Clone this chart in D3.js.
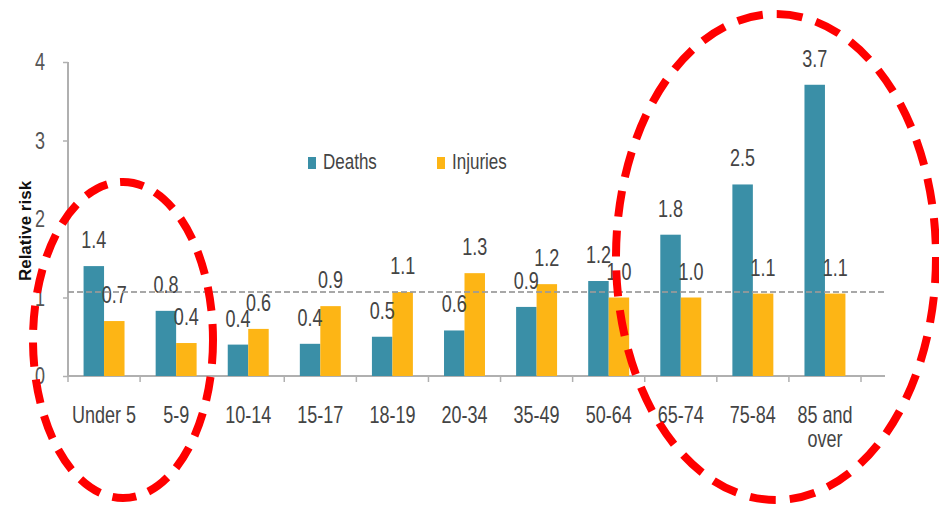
<!DOCTYPE html>
<html><head><meta charset="utf-8">
<script src="https://cdn.jsdelivr.net/npm/d3@7"></script>
<style>
body{margin:0;background:#fff;}
text{font-family:"Liberation Sans",Arial,sans-serif;}
</style></head>
<body><svg id="c" width="939" height="510"></svg>
<script>
const categories = ["Under 5","5-9","10-14","15-17","18-19","20-34","35-49","50-64","65-74","75-84","85 and over"];
const deaths = [1.40,0.83,0.40,0.41,0.50,0.58,0.88,1.21,1.80,2.44,3.71];
const injuries = [0.70,0.42,0.60,0.89,1.07,1.31,1.17,1.00,1.00,1.05,1.05];
const deathLabels = ["1.4","0.8","0.4","0.4","0.5","0.6","0.9","1.2","1.8","2.5","3.7"];
const injuryLabels = ["0.7","0.4","0.6","0.9","1.1","1.3","1.2","1.0","1.0","1.1","1.1"];
const yTicks = [0,1,2,3,4];
const seriesNames = ["Deaths","Injuries"];
const referenceLevel = 1.07;

(function(){
const colors = {Deaths:"#3a8fa7", Injuries:"#fdb515"};
const svg = d3.select("#c");
const mLeft = 68, mRight = 861, axisEnd = 885, mTop = 62, mBottom = 376;
const SY = 1.3;

const x = d3.scaleBand().domain(categories).range([mLeft, mRight]).paddingInner(0).paddingOuter(0);
const xs = d3.scaleBand().domain(seriesNames).range([0, x.bandwidth()]).paddingInner(0).paddingOuter(0.76);
const y = d3.scaleLinear().domain([0,4]).range([mBottom, mTop]);

// axes
const yAxis = svg.append("g").attr("transform",`translate(${mLeft},0)`)
  .call(d3.axisLeft(y).tickValues(yTicks).tickSize(5).tickPadding(18).tickFormat(d3.format("d")));
yAxis.select(".domain").attr("stroke","#b0b0b0").attr("stroke-width",2).attr("d",`M0,${mTop}V${mBottom}`);
yAxis.selectAll(".tick line").attr("stroke","#b0b0b0").attr("stroke-width",1.5);
yAxis.selectAll(".tick text").attr("font-size",18).attr("fill","#555").attr("font-family","Liberation Sans, Arial")
  .attr("transform",`scale(1,${SY})`).attr("y",0).attr("dy","0.33em");

const xAxis = svg.append("g").attr("transform",`translate(0,${mBottom})`)
  .call(d3.axisBottom(x).tickSize(0).tickPadding(0));
xAxis.select(".domain").remove();
xAxis.selectAll(".tick text").attr("font-size",18).attr("fill","#444").attr("font-family","Liberation Sans, Arial")
  .attr("transform",`scale(1,${SY})`).attr("y",23).attr("dy","0.71em")
  .each(function(d){
    const t = d3.select(this);
    if (d === "85 and over") {
      t.text(null);
      t.append("tspan").attr("x",0).attr("dy","0.71em").text("85 and");
      t.append("tspan").attr("x",0).attr("dy","1.05em").text("over");
    }
  });
svg.append("line").attr("x1",mLeft).attr("x2",axisEnd).attr("y1",mBottom).attr("y2",mBottom)
  .attr("stroke","#b0b0b0").attr("stroke-width",2);
svg.append("g").selectAll("line").data(categories.concat(["end"])).join("line")
  .attr("x1",(d,i)=> i<categories.length ? x(d) : mRight)
  .attr("x2",(d,i)=> i<categories.length ? x(d) : mRight)
  .attr("y1",mBottom).attr("y2",mBottom+6).attr("stroke","#b0b0b0").attr("stroke-width",1.5);

// bars
const rows = categories.map((c,i)=>({c, vals:[
  {s:"Deaths", v:deaths[i], l:deathLabels[i]},
  {s:"Injuries", v:injuries[i], l:injuryLabels[i]}]}));
const g = svg.append("g").selectAll("g").data(rows).join("g")
  .attr("transform",d=>`translate(${x(d.c)},0)`);
g.selectAll("rect").data(d=>d.vals).join("rect")
  .attr("x",d=>xs(d.s)).attr("width",xs.bandwidth())
  .attr("y",d=>y(d.v)).attr("height",d=>y(0)-y(d.v))
  .attr("fill",d=>colors[d.s]);

// reference dashed line
svg.append("line").attr("x1",mLeft).attr("x2",axisEnd)
  .attr("y1",y(referenceLevel)).attr("y2",y(referenceLevel))
  .attr("stroke","#9a9a9a").attr("stroke-width",2).attr("stroke-dasharray","6,3").attr("opacity",0.85);

// value labels
g.selectAll("text.val").data(d=>d.vals).join("text").attr("class","val")
  .attr("text-anchor","middle").attr("font-size",18).attr("fill","#444")
  .attr("transform",d=>`translate(${xs(d.s)+xs.bandwidth()/2},${y(d.v)-18}) scale(1,${SY})`)
  .text(d=>d.l);

// y title
svg.append("text").attr("transform",`translate(31,231) rotate(-90)`)
  .attr("text-anchor","middle").attr("font-size",17).attr("font-weight","bold").attr("fill","#111")
  .text("Relative risk");

// legend
const leg = svg.append("g");
const legX = [308, 437];
seriesNames.forEach((s,i)=>{
  leg.append("rect").attr("x",legX[i]).attr("y",157).attr("width",8).attr("height",12).attr("fill",colors[s]);
  leg.append("text").attr("transform",`translate(${legX[i]+15},169) scale(1,${SY})`)
    .attr("font-size",17).attr("fill","#444").text(s);
});

// red dashed annotation ellipses
svg.append("ellipse").attr("cx",123).attr("cy",340).attr("rx",90).attr("ry",158)
  .attr("fill","none").attr("stroke","#ff0000").attr("stroke-width",8).attr("stroke-dasharray","24,13");
svg.append("ellipse").attr("cx",776).attr("cy",257).attr("rx",160).attr("ry",243)
  .attr("fill","none").attr("stroke","#ff0000").attr("stroke-width",8).attr("stroke-dasharray","26,14");
})();
</script></body></html>
